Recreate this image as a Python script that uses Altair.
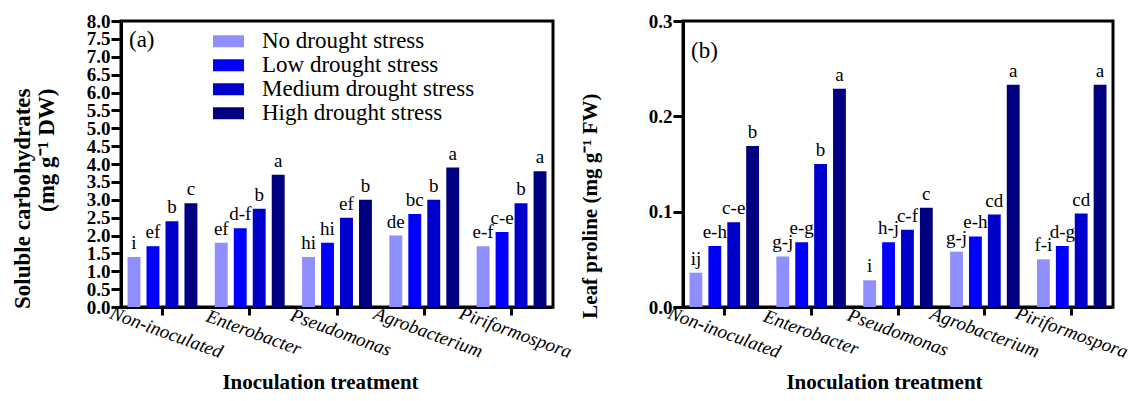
import altair as alt
import pandas as pd

groups = ["Non-inoculated", "Enterobacter", "Pseudomonas", "Agrobacterium", "Piriformospora"]
levels = ["No drought stress", "Low drought stress", "Medium drought stress", "High drought stress"]
colors = ["#8F8FFF", "#0000FF", "#0000CC", "#000080"]

# (a) Soluble carbohydrates, one list per drought level (values across groups)
carb_no = [1.4, 1.8, 1.4, 2.0, 1.7]
carb_low = [1.7, 2.2, 1.8, 2.6, 2.1]
carb_med = [2.4, 2.75, 2.5, 3.0, 2.9]
carb_high = [2.9, 3.7, 3.0, 3.9, 3.8]
carb_let_no = ["i", "ef", "hi", "de", "e-f"]
carb_let_low = ["ef", "d-f", "hi", "bc", "c-e"]
carb_let_med = ["b", "b", "ef", "b", "b"]
carb_let_high = ["c", "a", "b", "a", "a"]

# (b) Leaf proline
pro_no = [0.036, 0.053, 0.028, 0.058, 0.050]
pro_low = [0.064, 0.068, 0.068, 0.074, 0.064]
pro_med = [0.089, 0.150, 0.081, 0.097, 0.098]
pro_high = [0.169, 0.229, 0.104, 0.233, 0.233]
pro_let_no = ["ij", "g-j", "i", "g-j", "f-i"]
pro_let_low = ["e-h", "e-g", "h-j", "e-h", "d-g"]
pro_let_med = ["c-e", "b", "c-f", "cd", "cd"]
pro_let_high = ["b", "a", "c", "a", "a"]

carb_ticks = [i * 0.5 for i in range(17)]
pro_ticks = [0.0, 0.1, 0.2, 0.3]

FONT = "Liberation Serif"


def make_df(series, letters):
    rows = []
    for lev, vals, lets in zip(levels, series, letters):
        for g, v, l in zip(groups, vals, lets):
            rows.append({"group": g, "level": lev, "value": v, "letter": l})
    return pd.DataFrame(rows)


df_a = make_df([carb_no, carb_low, carb_med, carb_high],
               [carb_let_no, carb_let_low, carb_let_med, carb_let_high])
df_b = make_df([pro_no, pro_low, pro_med, pro_high],
               [pro_let_no, pro_let_low, pro_let_med, pro_let_high])


def panel(df, ytitle, ytitle_size, domain, ticks, title_x, title_y, xtitle_x, label_off,
          tag, tag_y, show_legend, width):
    x_enc = alt.X(
        "group:N", sort=groups,
        scale=alt.Scale(paddingInner=0.13, paddingOuter=0.04),
        axis=alt.Axis(
            title="Inoculation treatment", titleFont=FONT, titleFontSize=21,
            titleFontWeight="bold", titleColor="black",
            titleX=xtitle_x, titleY=81, titleAlign="center", titleBaseline="alphabetic",
            labelAngle=20, labelAlign="center", labelBaseline="middle",
            labelPadding=17, labelOffset=label_off, labelFont=FONT, labelFontStyle="italic",
            labelFontSize=19, labelColor="black", labelOverlap=False, labelLimit=0,
            tickSize=8, tickWidth=3, tickColor="black", domainWidth=3, domainColor="black",
        ),
    )
    xo = alt.XOffset("level:N", sort=levels,
                     scale=alt.Scale(paddingInner=0.32, paddingOuter=0.16))
    y_enc = alt.Y(
        "value:Q",
        scale=alt.Scale(domain=domain, nice=False, zero=True),
        axis=alt.Axis(
            title=ytitle, titleFont=FONT, titleFontSize=ytitle_size, titleFontWeight="bold",
            titleColor="black", titleAngle=-90, titleAlign="right", titleBaseline="top",
            titleX=title_x, titleY=title_y, titleLineHeight=24,
            values=ticks, format=".1f", labelFont=FONT, labelFontSize=19,
            labelFontWeight="bold", labelColor="black", labelPadding=1,
            labelOverlap=False, labelFlush=False,
            tickSize=10, tickWidth=3, tickColor="black", domainWidth=3,
            domainColor="black", grid=False,
        ),
    )
    if show_legend:
        legend = alt.Legend(
            title=None, orient="none", legendX=92, legendY=9, padding=0,
            symbolType="M-1,-0.39H1V0.39H-1Z", symbolSize=961,
            symbolStrokeWidth=0, labelFont=FONT, labelFontSize=23,
            labelColor="black", labelOffset=18, labelLimit=0, rowPadding=0,
            clipHeight=22.5,
        )
    else:
        legend = None
    color = alt.Color("level:N", sort=levels,
                      scale=alt.Scale(domain=levels, range=colors), legend=legend)

    base = alt.Chart(df).encode(x=x_enc, xOffset=xo, y=y_enc)
    bars = base.mark_bar(stroke=None).encode(color=color)
    labels = base.mark_text(font=FONT, fontSize=19, dy=-8, baseline="alphabetic",
                            color="black").encode(text="letter:N")
    tag_mark = alt.Chart(pd.DataFrame({"t": [tag]})).mark_text(
        font=FONT, fontSize=23, align="left", baseline="middle", color="black"
    ).encode(text="t:N", x=alt.value(8), y=alt.value(tag_y))
    return alt.layer(bars, labels, tag_mark).properties(width=width, height=286)


left = panel(df_a, ["Soluble carbohydrates", "(mg g\u207b\u00b9 DW)"], 23, [0, 8], carb_ticks,
             -110, 67, 199, 4, "(a)", 19, True, 432)
right = panel(df_b, "Leaf proline (mg g\u207b\u00b9 FW)", 21, [0, 0.3], pro_ticks,
              -104, 72, 201, 0, "(b)", 30, False, 430)

chart = alt.hconcat(left, right, spacing=130, bounds="flush").resolve_scale(
    color="independent", x="independent", y="independent", xOffset="independent"
).configure(font=FONT).configure_axis(
    labelFont=FONT, titleFont=FONT
).configure_legend(labelFont=FONT).configure_text(font=FONT).configure_view(
    stroke="black", strokeWidth=3
).properties(
    padding={"left": 1, "top": 2, "right": 0, "bottom": 0}
)

chart.save("out.html", embed_options={"renderer": "svg", "actions": False})
